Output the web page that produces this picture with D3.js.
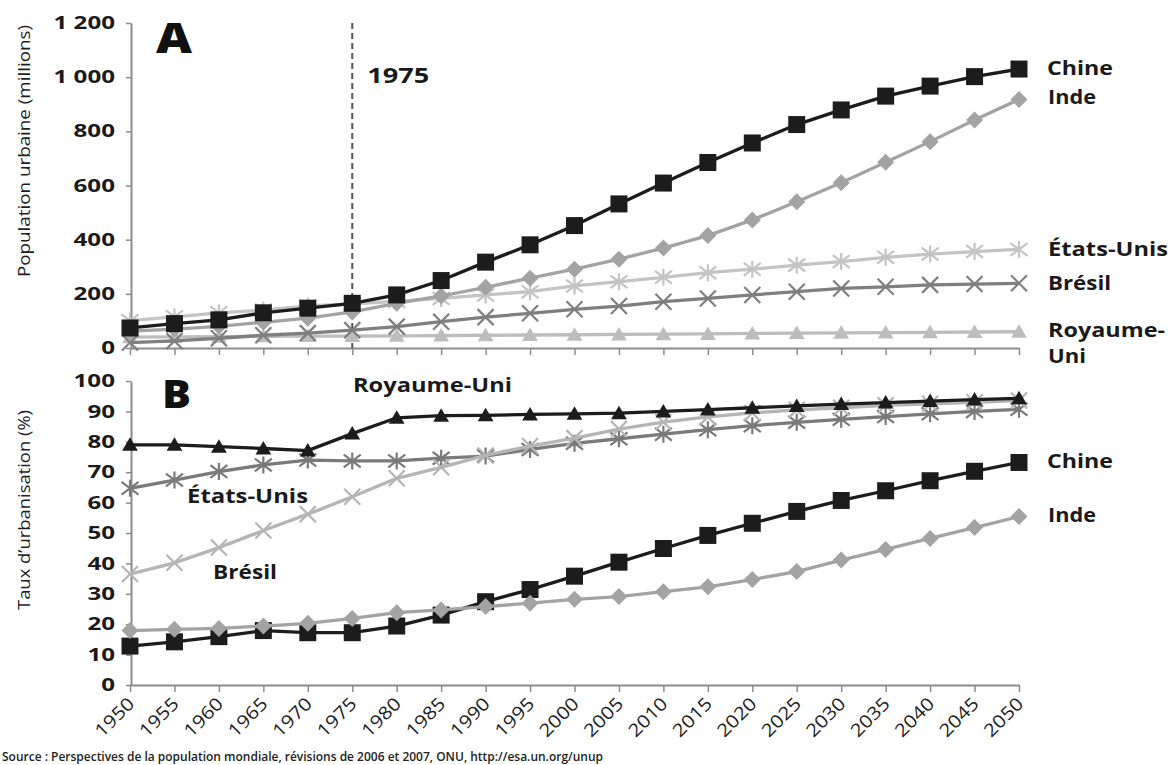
<!DOCTYPE html>
<html><head><meta charset="utf-8">
<script src="https://cdn.jsdelivr.net/npm/d3@7"></script>
<style>
html,body{margin:0;padding:0;background:#fff;}
svg{display:block;font-family:"Open Sans","Noto Sans",sans-serif;}
</style></head>
<body><svg id="c" width="1172" height="765"></svg>
<script>
const years = [1950,1955,1960,1965,1970,1975,1980,1985,1990,1995,2000,2005,2010,2015,2020,2025,2030,2035,2040,2045,2050];

// Panel A: urban population (millions)
const popChine = [74,90,104,130,147,165,196,249,317,381,452,532,609,685,757,825,879,930,967,1002,1030];
const popInde = [62,70,80,95,110,133,165,192,224,258,291,328,369,415,473,540,610,686,762,842,918];
const popEtatsUnis = [101,115,130,140,155,163,172,183,196,208,229,245,261,278,291,306,319,335,347,356,364];
const popBresil = [20,26,36,47,55,66,79,97,114,128,143,155,171,183,196,208,220,226,233,236,239];
const popRoyaumeUni = [40,41,42,43,44,44,45,46,47,48,49,50,51,52,54,55,56,57,58,59,60];

// Panel B: urbanisation rate (%)
const tauxChine = [12.8,14.2,15.9,17.9,17.2,17.2,19.4,23.0,27.4,31.4,35.8,40.4,44.9,49.2,53.2,57.1,60.7,63.9,67.2,70.3,73.2];
const tauxInde = [17.9,18.3,18.6,19.4,20.3,21.9,23.8,24.7,25.8,26.9,28.2,29.1,30.7,32.3,34.7,37.3,41.1,44.6,48.2,51.8,55.4];
const tauxEtatsUnis = [64.7,67.4,70.2,72.4,74.0,73.7,73.7,74.6,75.3,77.5,79.5,81.0,82.5,84.0,85.3,86.4,87.4,88.3,89.2,90.0,90.7];
const tauxBresil = [36.5,40.2,45.2,50.8,56.2,61.9,68.0,71.6,75.5,78.6,81.2,84.2,86.5,88.2,89.5,90.5,91.2,92.0,92.5,93.0,93.6];
const tauxRoyaumeUni = [79.0,79.0,78.4,77.8,77.1,82.7,87.9,88.6,88.7,89.0,89.2,89.4,90.0,90.6,91.2,91.8,92.4,92.9,93.4,93.9,94.3];

const ticksA = [0,200,400,600,800,1000,1200];
const ticksB = [0,10,20,30,40,50,60,70,80,90,100];

const svg = d3.select("#c");
const x = d3.scaleLinear().domain([1950,2050]).range([130,1019]);
const yA = d3.scaleLinear().domain([0,1200]).range([348,23]);
const yB = d3.scaleLinear().domain([0,100]).range([685,381]);

function stretch(sel, f){
  sel.each(function(){
    const L = this.getComputedTextLength();
    d3.select(this).attr("textLength", L*f).attr("lengthAdjust","spacingAndGlyphs");
  });
}
function fit(sel, w){ sel.attr("textLength", w).attr("lengthAdjust","spacingAndGlyphs"); return sel; }

const axisCol = "#8c8c8c";
function styleAxis(g){
  g.select(".domain").attr("stroke",axisCol).attr("stroke-width",2);
  g.selectAll(".tick line").attr("stroke",axisCol).attr("stroke-width",1.5);
}
const fmtSpace = v => v >= 1000 ? String(Math.floor(v/1000)) + " " + String(v%1000).padStart(3,"0") : String(v);

// Y axes
const gA = svg.append("g").attr("transform","translate(131,0)")
  .call(d3.axisLeft(yA).tickValues(ticksA).tickFormat(fmtSpace).tickSize(5).tickSizeOuter(0).tickPadding(11));
styleAxis(gA);
const gB = svg.append("g").attr("transform","translate(131,0)")
  .call(d3.axisLeft(yB).tickValues(ticksB).tickSize(5).tickSizeOuter(0).tickPadding(11));
styleAxis(gB);
[gA,gB].forEach(g=>{
  const t = g.selectAll(".tick text").style("font-size","17.5px").style("font-weight","700")
    .style("font-family","'Open Sans',sans-serif").attr("fill","#1a1a1a");
  stretch(t, 1.38);
});

// X axes
const xA = svg.append("g").attr("transform","translate(0,348)")
  .call(d3.axisBottom(x).tickValues(years).tickFormat("").tickSize(7).tickSizeOuter(0));
styleAxis(xA);
const xB = svg.append("g").attr("transform","translate(0,685)")
  .call(d3.axisBottom(x).tickValues(years).tickFormat(d3.format("d")).tickSize(7).tickSizeOuter(0));
styleAxis(xB);
const xt = xB.selectAll(".tick text")
  .style("font-size","18px").style("font-family","'Open Sans',sans-serif").attr("fill","#222")
  .attr("text-anchor","end").attr("dy",0).attr("x",0).attr("y",0)
  .attr("transform","translate(5,20) rotate(-45)");
fit(xt, 47);

// 1975 dashed line
svg.append("line").attr("x1",x(1975)).attr("x2",x(1975)).attr("y1",yA(1200)).attr("y2",yA(0))
  .attr("stroke","#555").attr("stroke-width",2).attr("stroke-dasharray","6,4");
fit(svg.append("text").attr("x",x(1975)+15).attr("y",83).text("1975")
  .attr("font-size",21).attr("font-weight",700).attr("fill","#1a1a1a"), 62);

// Panel letters
fit(svg.append("text").attr("x",156).attr("y",53).text("A").attr("font-size",42).attr("font-weight",800).attr("fill","#111"), 36);
fit(svg.append("text").attr("x",162).attr("y",408).text("B").attr("font-size",39).attr("font-weight",800).attr("fill","#111"), 29);

// Axis titles
fit(svg.append("text").attr("transform","translate(30,151) rotate(-90)").attr("text-anchor","middle")
  .text("Population urbaine (millions)").attr("font-size",16).attr("fill","#1e1e1e"), 252);
fit(svg.append("text").attr("transform","translate(30,510) rotate(-90)").attr("text-anchor","middle")
  .text("Taux d\u2019urbanisation (%)").attr("font-size",16).attr("fill","#1e1e1e"), 200);

// Marker shapes
const sq = s => `M${-s},${-s}H${s}V${s}H${-s}Z`;
const diam = s => `M0,${-s}L${s},0L0,${s}L${-s},0Z`;
const tri = s => `M0,${-s}L${s*1.05},${s*0.8}L${-s*1.05},${s*0.8}Z`;
const times = s => `M${-s},${-s}L${s},${s}M${-s},${s}L${s},${-s}`;
const star = s => `M${-s},${-s*0.75}L${s},${s*0.75}M${-s},${s*0.75}L${s},${-s*0.75}M0,${-s}L0,${s}`;

function series(vals, y, col, lw, shape, size, filled){
  const line = d3.line().x((d,i)=>x(years[i])).y(d=>y(d));
  const g = svg.append("g");
  g.append("path").attr("d",line(vals)).attr("fill","none").attr("stroke",col).attr("stroke-width",lw);
  g.selectAll("path.m").data(vals).enter().append("path").attr("class","m")
    .attr("transform",(d,i)=>`translate(${x(years[i])},${y(d)})`)
    .attr("d",shape(size))
    .attr("fill",filled ? col : "none")
    .attr("stroke",col).attr("stroke-width",filled?0:2.2);
}

// Panel A
series(popRoyaumeUni, yA, "#bdbdbd", 3.3, tri, 7.5, true);
series(popBresil, yA, "#7f7f7f", 3.3, times, 8, false);
series(popEtatsUnis, yA, "#c4c4c4", 3.3, star, 8.5, false);
series(popInde, yA, "#a3a3a3", 3.3, diam, 8.5, true);
series(popChine, yA, "#1c1c1c", 3.3, sq, 8.5, true);

// Panel B
series(tauxEtatsUnis, yB, "#7a7a7a", 3.3, star, 8.5, false);
series(tauxBresil, yB, "#b5b5b5", 3.3, times, 8, false);
series(tauxRoyaumeUni, yB, "#1c1c1c", 3.3, tri, 7.5, true);
series(tauxChine, yB, "#1c1c1c", 3.3, sq, 8.5, true);
series(tauxInde, yB, "#a3a3a3", 3.3, diam, 8.5, true);

// Labels
const lab = (t,xx,yy,w)=>fit(svg.append("text").attr("x",xx).attr("y",yy).text(t)
  .attr("font-size",20).attr("font-weight",700).attr("fill","#1a1a1a"), w);
lab("Chine",1047,75,66); lab("Inde",1048,104,48);
lab("\u00c9tats-Unis",1048,256,120); lab("Br\u00e9sil",1048,290,63);
lab("Royaume-",1048,337,117); lab("Uni",1048,363,38);
lab("Chine",1047,468,66); lab("Inde",1048,522,48);
lab("Royaume-Uni",353,392,159); lab("\u00c9tats-Unis",187,503,121); lab("Br\u00e9sil",213,579,64);

// Source
fit(svg.append("text").attr("x",2).attr("y",761).attr("font-size",12).attr("font-weight",600).attr("fill","#222")
  .text("Source : Perspectives de la population mondiale, r\u00e9visions de 2006 et 2007, ONU, http://esa.un.org/unup"), 601);
</script></body></html>
